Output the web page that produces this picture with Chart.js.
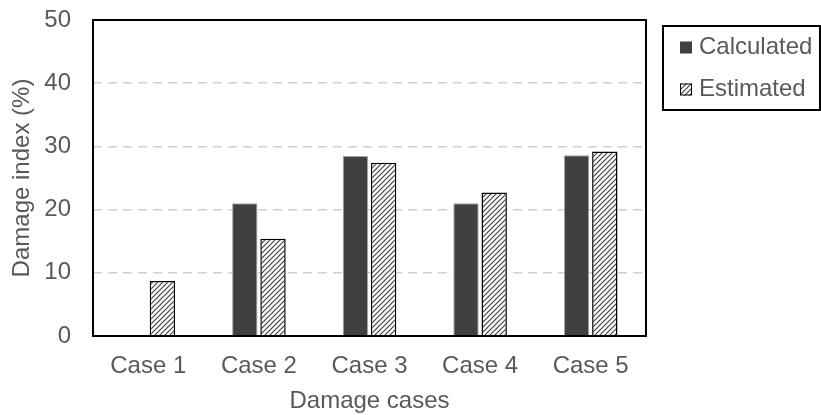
<!DOCTYPE html>
<html>
<head>
<meta charset="utf-8">
<script src="https://cdn.jsdelivr.net/npm/chart.js@4"></script>
<style>
  html, body { margin: 0; padding: 0; background: #fff; }
  #wrap { width: 821px; height: 415px; }
</style>
</head>
<body>
<div id="wrap"><canvas id="damage-chart" width="821" height="415"></canvas></div>
<script>
// chart data
const caseLabels = ['Case 1', 'Case 2', 'Case 3', 'Case 4', 'Case 5'];
const calculatedValues = [0, 21.0, 28.5, 21.0, 28.6];
const estimatedValues = [8.7, 15.4, 27.4, 22.7, 29.2];
const seriesNames = ['Calculated', 'Estimated'];

const textColor = '#595959';
const fontFamily = '"Liberation Sans", Arial, sans-serif';
const fontSize = 24;

// diagonal hatch used for the estimated bars
function makeHatch() {
    var size = 5;
    var c = document.createElement('canvas');
    c.width = size;
    c.height = size;
    var g = c.getContext('2d');
    g.fillStyle = '#ffffff';
    g.fillRect(0, 0, size, size);
    g.strokeStyle = '#3a3a3a';
    g.lineWidth = 1.1;
    g.beginPath();
    g.moveTo(0, size); g.lineTo(size, 0);
    g.moveTo(-1, 1); g.lineTo(1, -1);
    g.moveTo(size - 1, size + 1); g.lineTo(size + 1, size - 1);
    g.stroke();
    return g.createPattern(c, 'repeat');
}
const hatch = makeHatch();

// black frame round the plot area
const plotFrame = {
    id: 'plotFrame',
    afterDatasetsDraw(chart) {
        const a = chart.chartArea;
        const ctx = chart.ctx;
        ctx.save();
        ctx.strokeStyle = '#000';
        ctx.lineWidth = 2;
        ctx.strokeRect(a.left, a.top, a.right - a.left, a.bottom - a.top);
        ctx.restore();
    }
};

// boxed legend on the right, like the original
const boxLegend = {
    id: 'boxLegend',
    afterDraw(chart) {
        const ctx = chart.ctx;
        const x = 663, y = 26, w = 157, h = 84;
        ctx.save();
        ctx.strokeStyle = '#000';
        ctx.lineWidth = 2;
        ctx.strokeRect(x, y, w, h);
        ctx.font = fontSize + 'px ' + fontFamily;
        ctx.textBaseline = 'middle';
        chart.data.datasets.forEach(function (ds, i) {
            var cy = 47.5 + i * 42;
            ctx.fillStyle = ds.backgroundColor;
            ctx.fillRect(680, cy - 6, 12, 12);
            if (i === 1) {
                ctx.strokeStyle = '#000';
                ctx.lineWidth = 1;
                ctx.strokeRect(680.5, cy - 5.5, 11, 11);
            }
            ctx.fillStyle = textColor;
            ctx.fillText(ds.label, 699, cy);
        });
        ctx.restore();
    }
};

new Chart('damage-chart', {
    type: 'bar',
    data: {
        labels: caseLabels,
        datasets: [{
            label: seriesNames[0],
            data: calculatedValues,
            backgroundColor: '#404040',
            borderColor: '#a6a6a6',
            borderWidth: 1,
            barPercentage: 0.9,
            categoryPercentage: 0.51
        }, {
            label: seriesNames[1],
            data: estimatedValues,
            backgroundColor: hatch,
            borderColor: '#000000',
            borderWidth: 1.5,
            barPercentage: 0.9,
            categoryPercentage: 0.51
        }]
    },
    options: {
        responsive: false,
        animation: false,
        layout: { padding: { top: 20, right: 175, bottom: 0, left: 0 } },
        plugins: {
            legend: { display: false },
            tooltip: { enabled: false }
        },
        scales: {
            x: {
                grid: { display: false, drawTicks: false },
                border: { display: false },
                ticks: { color: textColor, font: { family: fontFamily, size: fontSize }, padding: 16 },
                title: {
                    display: true,
                    text: 'Damage cases',
                    color: textColor,
                    font: { family: fontFamily, size: fontSize },
                    padding: { top: 0, bottom: -1 }
                },
                afterFit: function (scale) { scale.height = 79; }
            },
            y: {
                min: 0,
                max: 50,
                ticks: { stepSize: 10, color: textColor, font: { family: fontFamily, size: fontSize }, padding: 22 },
                grid: {
                    drawTicks: false,
                    color: function (ctx) {
                        return (ctx.tick.value === 0 || ctx.tick.value === 50) ? 'rgba(0,0,0,0)' : '#d0d0d0';
                    },
                    lineWidth: 1.5
                },
                border: { display: false, dash: [9, 6] },
                title: {
                    display: true,
                    text: 'Damage index (%)',
                    color: textColor,
                    font: { family: fontFamily, size: fontSize },
                    padding: { top: 8, bottom: 0 }
                },
                afterFit: function (scale) {
                    scale.width = 93;
                    // let the top tick label hang over the frame like the original
                    scale.paddingTop = 0;
                    scale.paddingBottom = 0;
                }
            }
        }
    },
    plugins: [plotFrame, boxLegend]
});
</script>
</body>
</html>
